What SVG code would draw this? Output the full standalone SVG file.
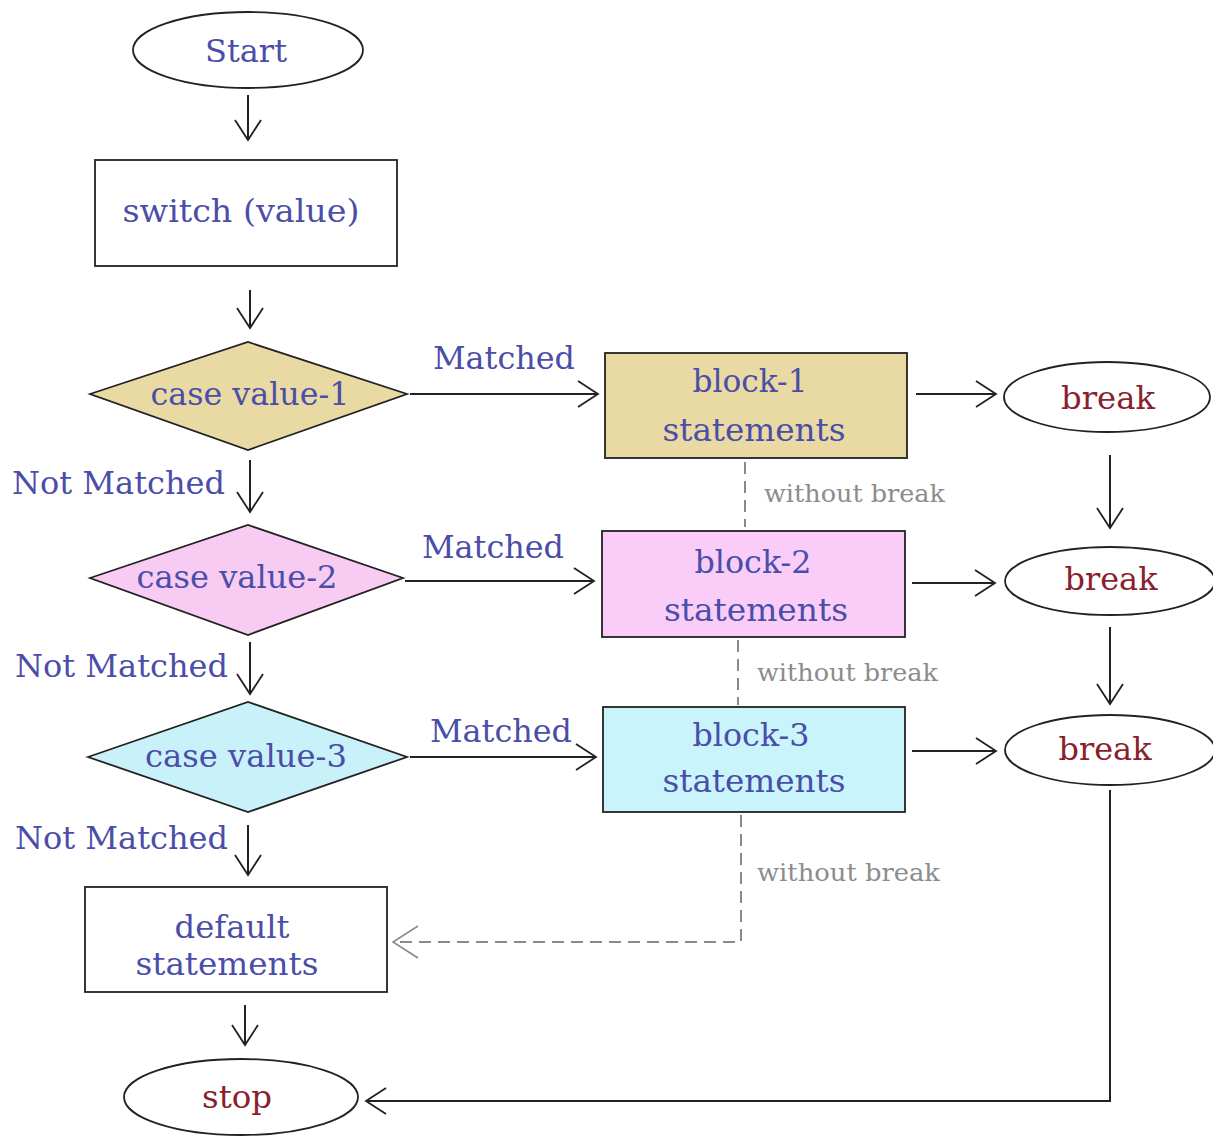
<svg xmlns="http://www.w3.org/2000/svg" width="1213" height="1137" viewBox="0 0 1213 1137">
<defs>
<style>
.t{font-family:"DejaVu Serif","Liberation Serif",serif;font-size:31px;fill:#4b4ea8;text-anchor:middle}
.lbl{font-family:"DejaVu Serif","Liberation Serif",serif;font-size:32px;fill:#4b4ea8}
.r{font-family:"DejaVu Serif","Liberation Serif",serif;font-size:32px;fill:#8a1f2e;text-anchor:middle}
.g{font-family:"DejaVu Serif","Liberation Serif",serif;font-size:25px;fill:#8c8c8c}
.sh{stroke:#222;stroke-width:1.8}
.ln{stroke:#222;stroke-width:2;fill:none}
.dl{stroke:#8a8a8a;stroke-width:2;fill:none;stroke-dasharray:12 7}
</style>
<marker id="ar" viewBox="0 0 23 28" refX="21" refY="14" markerWidth="23" markerHeight="28" markerUnits="userSpaceOnUse" orient="auto">
<path d="M1,1 L21,14 L1,27" fill="none" stroke="#222" stroke-width="1.8"/>
</marker>
<marker id="arg" viewBox="0 0 28 34" refX="26" refY="17" markerWidth="28" markerHeight="34" markerUnits="userSpaceOnUse" orient="auto">
<path d="M1,1 L26,17 L1,33" fill="none" stroke="#8a8a8a" stroke-width="1.6"/>
</marker>
</defs>
<rect width="1213" height="1137" fill="#fff"/>

<g id="connectors">
<line class="ln" x1="248" y1="95" x2="248" y2="140" marker-end="url(#ar)"/>
<line class="ln" x1="250" y1="290" x2="250" y2="328" marker-end="url(#ar)"/>
<line class="ln" x1="410" y1="394" x2="598" y2="394" marker-end="url(#ar)"/>
<line class="ln" x1="916" y1="394" x2="996" y2="394" marker-end="url(#ar)"/>
<line class="ln" x1="1110" y1="455" x2="1110" y2="528" marker-end="url(#ar)"/>
<line class="ln" x1="250" y1="460" x2="250" y2="512" marker-end="url(#ar)"/>
<line class="ln" x1="405" y1="581" x2="594" y2="581" marker-end="url(#ar)"/>
<line class="ln" x1="912" y1="583" x2="995" y2="583" marker-end="url(#ar)"/>
<line class="ln" x1="1110" y1="627" x2="1110" y2="704" marker-end="url(#ar)"/>
<line class="ln" x1="250" y1="642" x2="250" y2="694" marker-end="url(#ar)"/>
<line class="ln" x1="410" y1="757" x2="596" y2="757" marker-end="url(#ar)"/>
<line class="ln" x1="912" y1="751" x2="996" y2="751" marker-end="url(#ar)"/>
<line class="ln" x1="248" y1="825" x2="248" y2="875" marker-end="url(#ar)"/>
<line class="ln" x1="245" y1="1005" x2="245" y2="1045" marker-end="url(#ar)"/>
<polyline class="ln" points="1110,790 1110,1101 366,1101" marker-end="url(#ar)"/>
<line class="dl" x1="745" y1="462" x2="745" y2="527"/>
<line class="dl" x1="738" y1="640" x2="738" y2="705"/>
<polyline class="dl" points="741,815 741,942 393,942" marker-end="url(#arg)"/>
<text class="lbl" x="433" y="369" textLength="142" lengthAdjust="spacingAndGlyphs">Matched</text>
<text class="lbl" x="422" y="558" textLength="142" lengthAdjust="spacingAndGlyphs">Matched</text>
<text class="lbl" x="430" y="742" textLength="142" lengthAdjust="spacingAndGlyphs">Matched</text>
<text class="lbl" x="12" y="494" textLength="213" lengthAdjust="spacingAndGlyphs">Not Matched</text>
<text class="lbl" x="15" y="677" textLength="213" lengthAdjust="spacingAndGlyphs">Not Matched</text>
<text class="lbl" x="15" y="849" textLength="213" lengthAdjust="spacingAndGlyphs">Not Matched</text>
<text class="g" x="764" y="502" textLength="181" lengthAdjust="spacingAndGlyphs">without break</text>
<text class="g" x="757" y="681" textLength="181" lengthAdjust="spacingAndGlyphs">without break</text>
<text class="g" x="757" y="881" textLength="183" lengthAdjust="spacingAndGlyphs">without break</text>
</g>

<g id="start">
<ellipse class="sh" cx="248" cy="50" rx="115" ry="38" fill="#fff"/>
<text class="t" x="246" y="62" textLength="82" lengthAdjust="spacingAndGlyphs">Start</text>
</g>
<g id="switch">
<rect class="sh" x="95" y="160" width="302" height="106" fill="#fff"/>
<text class="t" x="241" y="222" textLength="237" lengthAdjust="spacingAndGlyphs">switch (value)</text>
</g>
<g id="case1">
<polygon class="sh" points="90,394 248,342 407,394 248,450" fill="#e9d9a2"/>
<text class="t" x="250" y="405" textLength="199" lengthAdjust="spacingAndGlyphs">case value-1</text>
</g>
<g id="block1">
<rect class="sh" x="605" y="353" width="302" height="105" fill="#e9d9a2"/>
<text class="t" x="750" y="392" textLength="115" lengthAdjust="spacingAndGlyphs">block-1</text>
<text class="t" x="754" y="441" textLength="183" lengthAdjust="spacingAndGlyphs">statements</text>
</g>
<g id="break1">
<ellipse class="sh" cx="1107" cy="397" rx="103" ry="35" fill="#fff"/>
<text class="r" x="1108" y="409" textLength="94" lengthAdjust="spacingAndGlyphs">break</text>
</g>
<g id="case2">
<polygon class="sh" points="90,578 248,525 403,578 248,635" fill="#f8cbf3"/>
<text class="t" x="237" y="588" textLength="201" lengthAdjust="spacingAndGlyphs">case value-2</text>
</g>
<g id="block2">
<rect class="sh" x="602" y="531" width="303" height="106" fill="#f9cdf8"/>
<text class="t" x="753" y="573" textLength="117" lengthAdjust="spacingAndGlyphs">block-2</text>
<text class="t" x="756" y="621" textLength="184" lengthAdjust="spacingAndGlyphs">statements</text>
</g>
<g id="break2">
<ellipse class="sh" cx="1110" cy="581" rx="105" ry="34" fill="#fff"/>
<text class="r" x="1111" y="590" textLength="93" lengthAdjust="spacingAndGlyphs">break</text>
</g>
<g id="case3">
<polygon class="sh" points="88,757 248,702 407,757 248,812" fill="#c9f1f9"/>
<text class="t" x="246" y="767" textLength="202" lengthAdjust="spacingAndGlyphs">case value-3</text>
</g>
<g id="block3">
<rect class="sh" x="603" y="707" width="302" height="105" fill="#c9f4fc"/>
<text class="t" x="751" y="746" textLength="117" lengthAdjust="spacingAndGlyphs">block-3</text>
<text class="t" x="754" y="792" textLength="183" lengthAdjust="spacingAndGlyphs">statements</text>
</g>
<g id="break3">
<ellipse class="sh" cx="1110" cy="750" rx="105" ry="35" fill="#fff"/>
<text class="r" x="1105" y="760" textLength="93" lengthAdjust="spacingAndGlyphs">break</text>
</g>
<g id="default">
<rect class="sh" x="85" y="887" width="302" height="105" fill="#fff"/>
<text class="t" x="232" y="938" textLength="115" lengthAdjust="spacingAndGlyphs">default</text>
<text class="t" x="227" y="975" textLength="183" lengthAdjust="spacingAndGlyphs">statements</text>
</g>
<g id="stop">
<ellipse class="sh" cx="241" cy="1097" rx="117" ry="38" fill="#fff"/>
<text class="r" x="237" y="1108" textLength="70" lengthAdjust="spacingAndGlyphs">stop</text>
</g>
</svg>
